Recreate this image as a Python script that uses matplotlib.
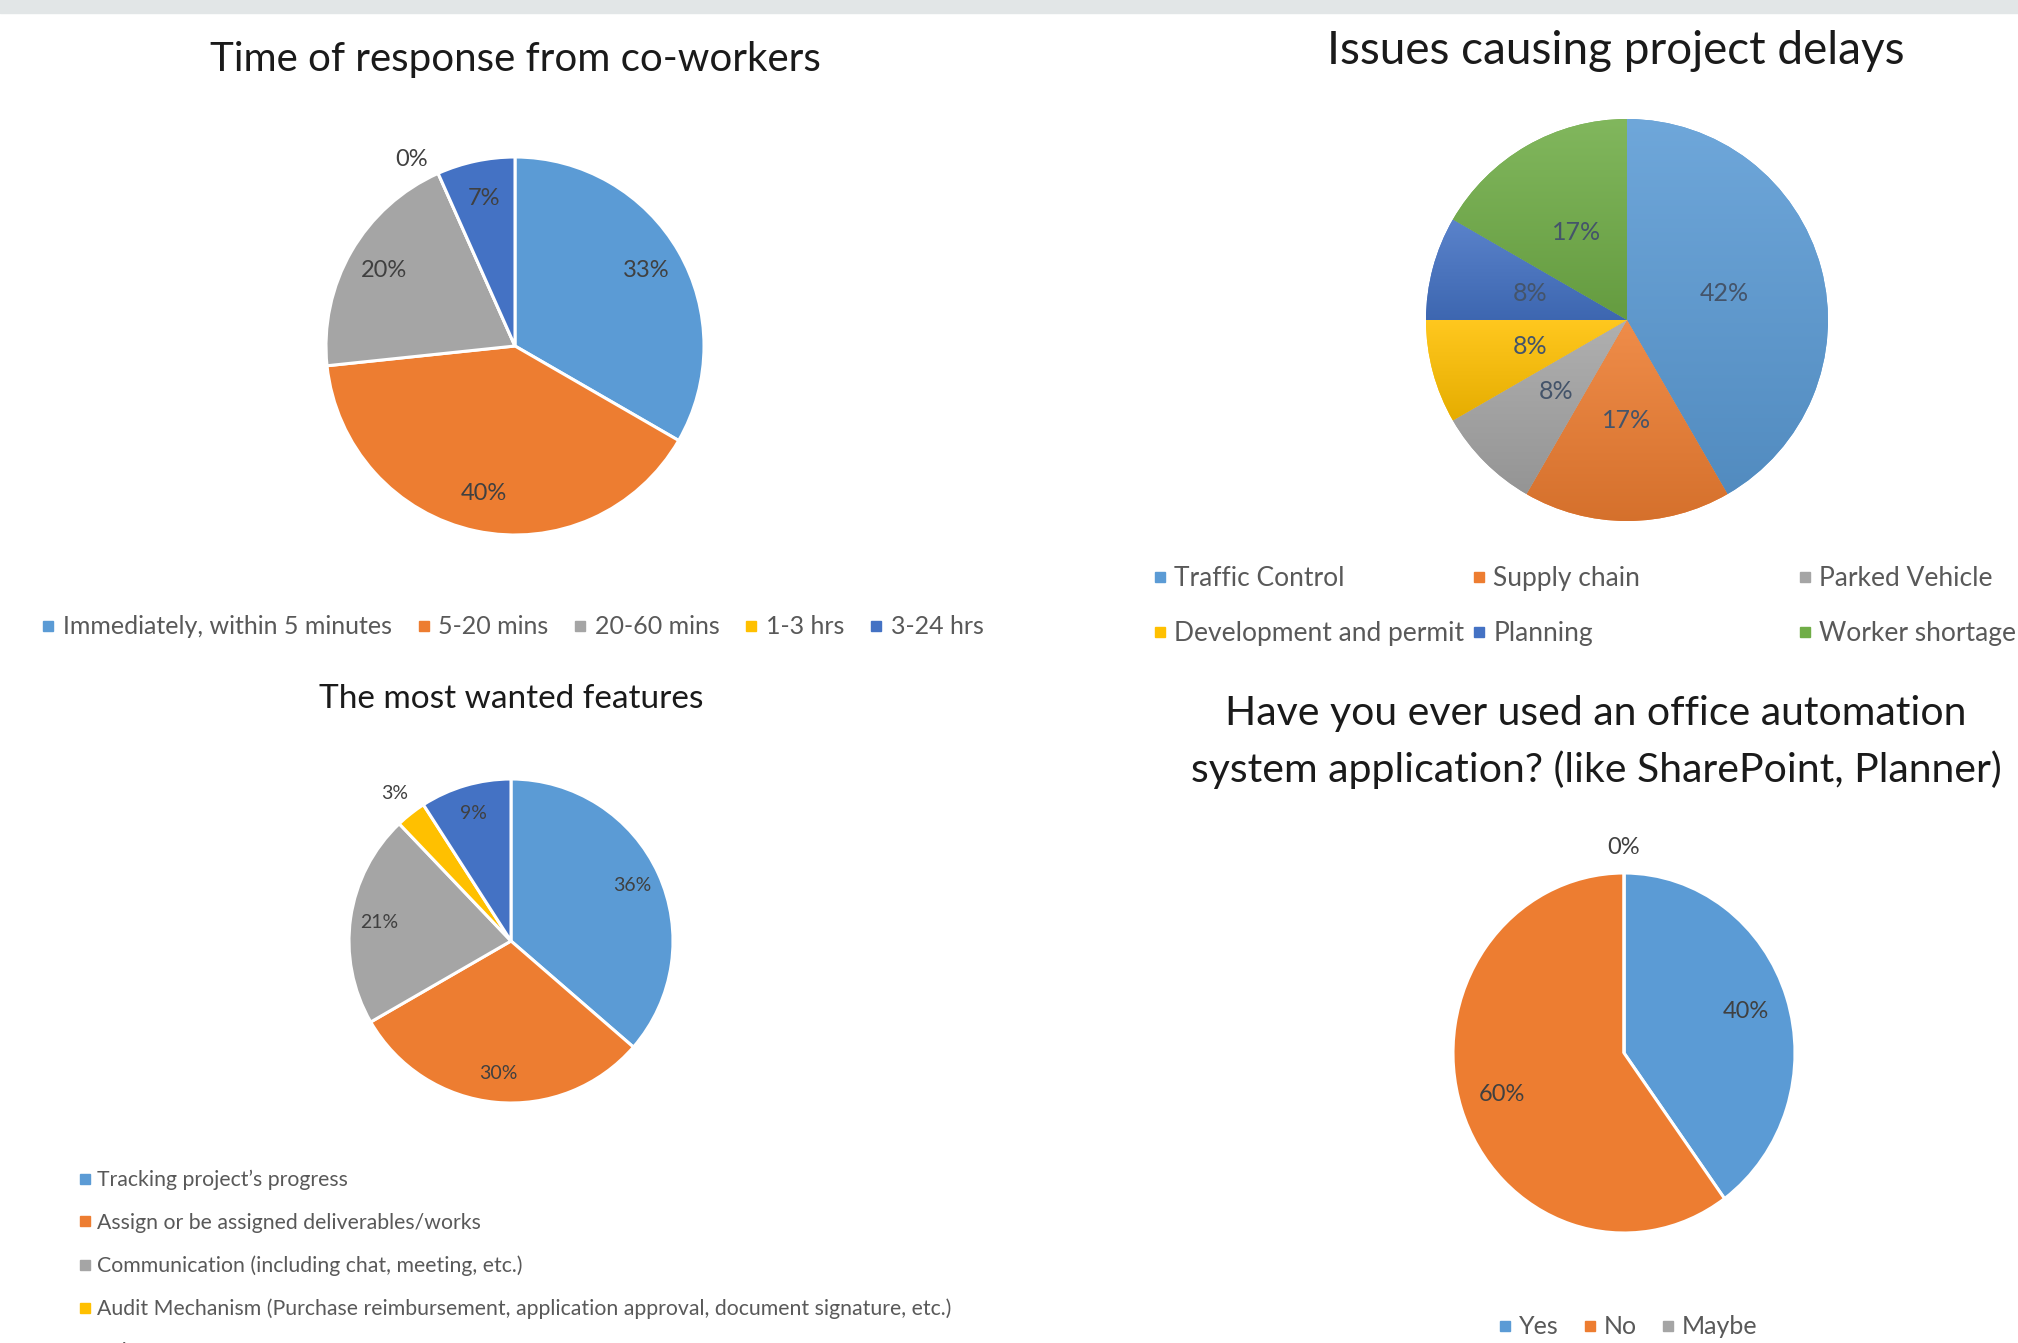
import matplotlib
matplotlib.use('Agg')
import matplotlib.pyplot as plt
from matplotlib.lines import Line2D
from matplotlib.patches import Rectangle
from matplotlib.colors import LinearSegmentedColormap, to_rgb
import numpy as np

plt.rcParams['font.family'] = ['Lato', 'DejaVu Sans']

W, H = 2018, 1343

# data (counts giving the shown percentages)
resp_labels = ['Immediately, within 5 minutes', '5-20 mins', '20-60 mins', '1-3 hrs', '3-24 hrs']
resp_counts = [5, 6, 3, 0, 1]

delay_labels = ['Traffic Control', 'Supply chain', 'Parked Vehicle',
                'Development and permit', 'Planning', 'Worker shortage']
delay_counts = [5, 2, 1, 1, 1, 2]

feat_labels = ['Tracking project\u2019s progress',
               'Assign or be assigned deliverables/works',
               'Communication (including chat, meeting, etc.)',
               'Audit Mechanism (Purchase reimbursement, application approval, document signature, etc.)',
               'Other']
feat_counts = [12, 10, 7, 1, 3]

oa_labels = ['Yes', 'No', 'Maybe']
oa_counts = [2, 3, 0]

office = ['#5B9BD5', '#ED7D31', '#A5A5A5', '#FFC000', '#4472C4', '#70AD47']
LABEL = '#404040'
LEG = '#595959'

fig = plt.figure(figsize=(W / 100, H / 100), dpi=100)
fig.patches.append(Rectangle((0, 1 - 13 / H), 1, 13 / H, transform=fig.transFigure,
                             color='#e2e6e7', zorder=0))


def mix(c, other, t):
    a = np.array(to_rgb(c))
    b = np.array(to_rgb(other))
    return tuple(a + (b - a) * t)


def draw_pie(cx, cy, rx, ry, counts, edge, d_in, d_out, fs, tcolor,
             out_shift=0.0, gradient=False):
    ax = fig.add_axes([(cx - rx) / W, 1 - (cy + ry) / H, 2 * rx / W, 2 * ry / H])
    cols = office[:len(counts)]
    if edge:
        wp = dict(edgecolor='white', linewidth=2.2)
    else:
        wp = dict(edgecolor='none', linewidth=0)
    wedges, _ = ax.pie(counts, colors=cols, startangle=90, counterclock=False,
                       radius=1, wedgeprops=wp)
    for w in wedges:
        w.set_clip_on(False)
    if gradient:
        # per-slice vertical gradient, like the Excel fill
        for w, c in zip(wedges, cols):
            th = np.deg2rad(np.linspace(w.theta1, w.theta2, 60))
            xs = np.concatenate([[0], np.cos(th)])
            ys = np.concatenate([[0], np.sin(th)])
            cmap = LinearSegmentedColormap.from_list(
                'g', [mix(c, 'black', 0.1), mix(c, 'white', 0.12)])
            grad = np.linspace(0, 1, 256).reshape(-1, 1)
            im = ax.imshow(grad, cmap=cmap, origin='lower', aspect='auto',
                           extent=[xs.min(), xs.max(), ys.min(), ys.max()],
                           interpolation='bilinear', zorder=w.get_zorder() + 0.1)
            im.set_clip_path(w)
    total = sum(counts)
    for w, v in zip(wedges, counts):
        share = v / total
        if share >= 0.05:
            d, ang = d_in, (w.theta1 + w.theta2) / 2
        else:
            d, ang = d_out, (w.theta1 + w.theta2) / 2 + out_shift
        th = np.deg2rad(ang)
        ax.text(d * np.cos(th), d * np.sin(th), f'{round(100 * share)}%',
                ha='center', va='center', fontsize=fs, color=tcolor, zorder=5)
    ax.set_xlim(-1, 1)
    ax.set_ylim(-1, 1)
    ax.set_aspect('auto')
    ax.axis('off')
    return ax


def handles(n):
    return [Line2D([], [], marker='s', linestyle='none', markersize=7,
                   color=office[i]) for i in range(n)]


def fy(y):
    return 1 - y / H


# chart 1
fig.text(515 / W, fy(59), 'Time of response from co-workers', ha='center', va='center',
         fontsize=29, color='#1a1a1a')
draw_pie(515, 346, 189, 189, resp_counts, True, 0.8, 1.13, 17, LABEL, out_shift=5)
fig.legend(handles(5), resp_labels, loc='center left', bbox_to_anchor=(42 / W, fy(627)),
           ncol=5, frameon=False, fontsize=18, labelcolor=LEG, handlelength=0.5,
           handletextpad=0.35, columnspacing=1.0, borderpad=0, borderaxespad=0)

# chart 2
fig.text(1616 / W, fy(51), 'Issues causing project delays', ha='center', va='center',
         fontsize=33, color='#1a1a1a')
draw_pie(1627, 320, 201, 201, delay_counts, False, 0.5, 0.5, 18, '#44546A',
         gradient=True)
h2 = handles(6)
order = [0, 3, 1, 4]
fig.legend([h2[i] for i in order], [delay_labels[i] for i in order],
           loc='center left', bbox_to_anchor=(1153 / W, fy(606)), ncol=2,
           frameon=False, fontsize=19, labelcolor=LEG, handlelength=0.5,
           handletextpad=0.3, columnspacing=0.3, labelspacing=1.14,
           borderpad=0, borderaxespad=0)
fig.legend([h2[2], h2[5]], [delay_labels[2], delay_labels[5]],
           loc='center left', bbox_to_anchor=(1798 / W, fy(606)), frameon=False,
           fontsize=19, labelcolor=LEG, handlelength=0.5, handletextpad=0.3,
           labelspacing=1.14, borderpad=0, borderaxespad=0)

# chart 3
fig.text(511 / W, fy(699), 'The most wanted features', ha='center', va='center',
         fontsize=24, color='#1a1a1a')
draw_pie(511, 941, 162, 162, feat_counts, True, 0.82, 1.16, 14, LABEL)
fig.legend(handles(5), feat_labels, loc='upper left', bbox_to_anchor=(80 / W, fy(1170)),
           frameon=False, fontsize=15.3, labelcolor=LEG, handlelength=0.5,
           handletextpad=0.3, labelspacing=1.06, borderpad=0, borderaxespad=0)

# chart 4
fig.text(1596 / W, fy(714), 'Have you ever used an office automation', ha='center',
         va='center', fontsize=29.5, color='#1a1a1a')
fig.text(1596 / W, fy(770), 'system application? (like SharePoint, Planner)', ha='center',
         va='center', fontsize=29.5, color='#1a1a1a')
draw_pie(1624, 1053, 171, 180, oa_counts, True, 0.75, 1.14, 17, LABEL)
fig.legend(handles(3), oa_labels, loc='center', bbox_to_anchor=(1628 / W, fy(1327)),
           ncol=3, frameon=False, fontsize=18, labelcolor=LEG, handlelength=0.5,
           handletextpad=0.3, columnspacing=1.0, borderpad=0, borderaxespad=0)

fig.savefig('out.png', dpi=100)
